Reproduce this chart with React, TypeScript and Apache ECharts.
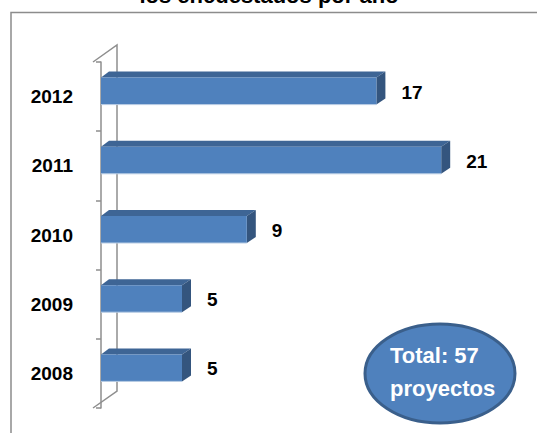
import React, { useEffect, useRef } from "react";
import * as echarts from "echarts";

const categories = ["2008", "2009", "2010", "2011", "2012"];
const values = [5, 5, 9, 21, 17];
const titleText = "los encuestados por año";
const totalLines = ["Total: 57", "proyectos"];

const FONT = "'Liberation Sans', Arial, sans-serif";
const GRID_LEFT = 101;
const GRID_TOP = 62;
const GRID_BOTTOM = 25;
const GRID_RIGHT = 31;
const AXIS_OFFSET = 8;
const DEPTH_X = 24;
const DEPTH_Y = 17;

export default function App() {
  const ref = useRef<HTMLDivElement>(null);
  useEffect(() => {
    if (!ref.current) return;
    const chart = echarts.init(ref.current, null, { renderer: "svg" });
    const W = 537;
    const H = 433;
    const frontX = GRID_LEFT - AXIS_OFFSET;
    const bottomY = H - GRID_BOTTOM;
    const dx = 9;
    const dy = 6;
    const option: any = {
      animation: false,
      backgroundColor: "#ffffff",
      grid: { left: GRID_LEFT, top: GRID_TOP, bottom: GRID_BOTTOM, right: GRID_RIGHT, containLabel: false },
      xAxis: {
        type: "value",
        min: 0,
        max: 25,
        show: false,
        splitLine: { show: false },
      },
      yAxis: {
        type: "category",
        data: categories,
        offset: AXIS_OFFSET,
        axisLine: { show: true, lineStyle: { color: "#8e8e8e", width: 1.5 } },
        axisTick: { show: true, length: 5, inside: false, lineStyle: { color: "#8e8e8e", width: 1.5 } },
        axisLabel: {
          margin: 20,
          fontFamily: FONT,
          fontWeight: "bold",
          fontSize: 19,
          color: "#000000",
        },
        splitLine: { show: false },
      },
      series: [
        {
          type: "custom",
          data: values.map((v, i) => [v, i]),
          encode: { x: 0, y: 1 },
          renderItem: (params: any, api: any) => {
            const v = api.value(0);
            const idx = api.value(1);
            const p0 = api.coord([0, idx]);
            const p1 = api.coord([v, idx]);
            const x0 = p0[0];
            const x1 = p1[0];
            const yc = p0[1] - 5.5;
            const t = yc - 13.5;
            const b = yc + 13.5;
            return {
              type: "group",
              children: [
                {
                  type: "polygon",
                  shape: { points: [[x0, t], [x0 + dx - 1, t - dy], [x1 + dx, t - dy], [x1, t]] },
                  style: { fill: "#3e6595" },
                },
                {
                  type: "polygon",
                  shape: { points: [[x1, t], [x1 + dx, t - dy], [x1 + dx, b - dy], [x1, b]] },
                  style: { fill: "#34557e" },
                },
                {
                  type: "rect",
                  shape: { x: x0, y: t, width: x1 - x0, height: b - t },
                  style: { fill: "#4f81bd" },
                },
                {
                  type: "line",
                  shape: { x1: x0, y1: b, x2: x1, y2: b },
                  style: { stroke: "#b8cce4", lineWidth: 1 },
                },
                {
                  type: "text",
                  style: {
                    text: String(v),
                    x: x1 + 25,
                    y: yc + 1,
                    verticalAlign: "middle",
                    align: "left",
                    font: `bold 19px ${FONT}`,
                    fill: "#000000",
                  },
                },
              ],
            };
          },
        },
      ],
      graphic: [
        {
          type: "rect",
          shape: { x: 11, y: 12.5, width: 700, height: 600 },
          style: { fill: "none", stroke: "#8c8c8c", lineWidth: 1.5 },
          z: -1,
        },
        {
          type: "polyline",
          shape: {
            points: [
              [frontX, GRID_TOP],
              [frontX + DEPTH_X, GRID_TOP - DEPTH_Y],
              [frontX + DEPTH_X, bottomY - DEPTH_Y],
              [frontX, bottomY],
            ],
          },
          style: { fill: "none", stroke: "#8e8e8e", lineWidth: 1.5 },
          z: -1,
        },
        {
          type: "text",
          style: {
            text: titleText,
            x: 269,
            y: 6,
            align: "center",
            verticalAlign: "bottom",
            font: `bold 22px ${FONT}`,
            fill: "#000000",
          },
        },
        {
          type: "ellipse",
          shape: { cx: 440, cy: 373.5, rx: 75, ry: 49.5 },
          style: { fill: "#4f81bd", stroke: "#3a5f8b", lineWidth: 3 },
        },
        {
          type: "text",
          style: {
            text: totalLines[0],
            x: 390,
            y: 355,
            align: "left",
            verticalAlign: "middle",
            font: `bold 22px ${FONT}`,
            fill: "#ffffff",
          },
        },
        {
          type: "text",
          style: {
            text: totalLines[1],
            x: 390,
            y: 388,
            align: "left",
            verticalAlign: "middle",
            font: `bold 22px ${FONT}`,
            fill: "#ffffff",
          },
        },
      ],
    };
    chart.setOption(option);
    return () => chart.dispose();
  }, []);
  return (
    <div
      ref={ref}
      style={{ position: "absolute", left: 0, top: 0, width: 537, height: 433 }}
    />
  );
}
